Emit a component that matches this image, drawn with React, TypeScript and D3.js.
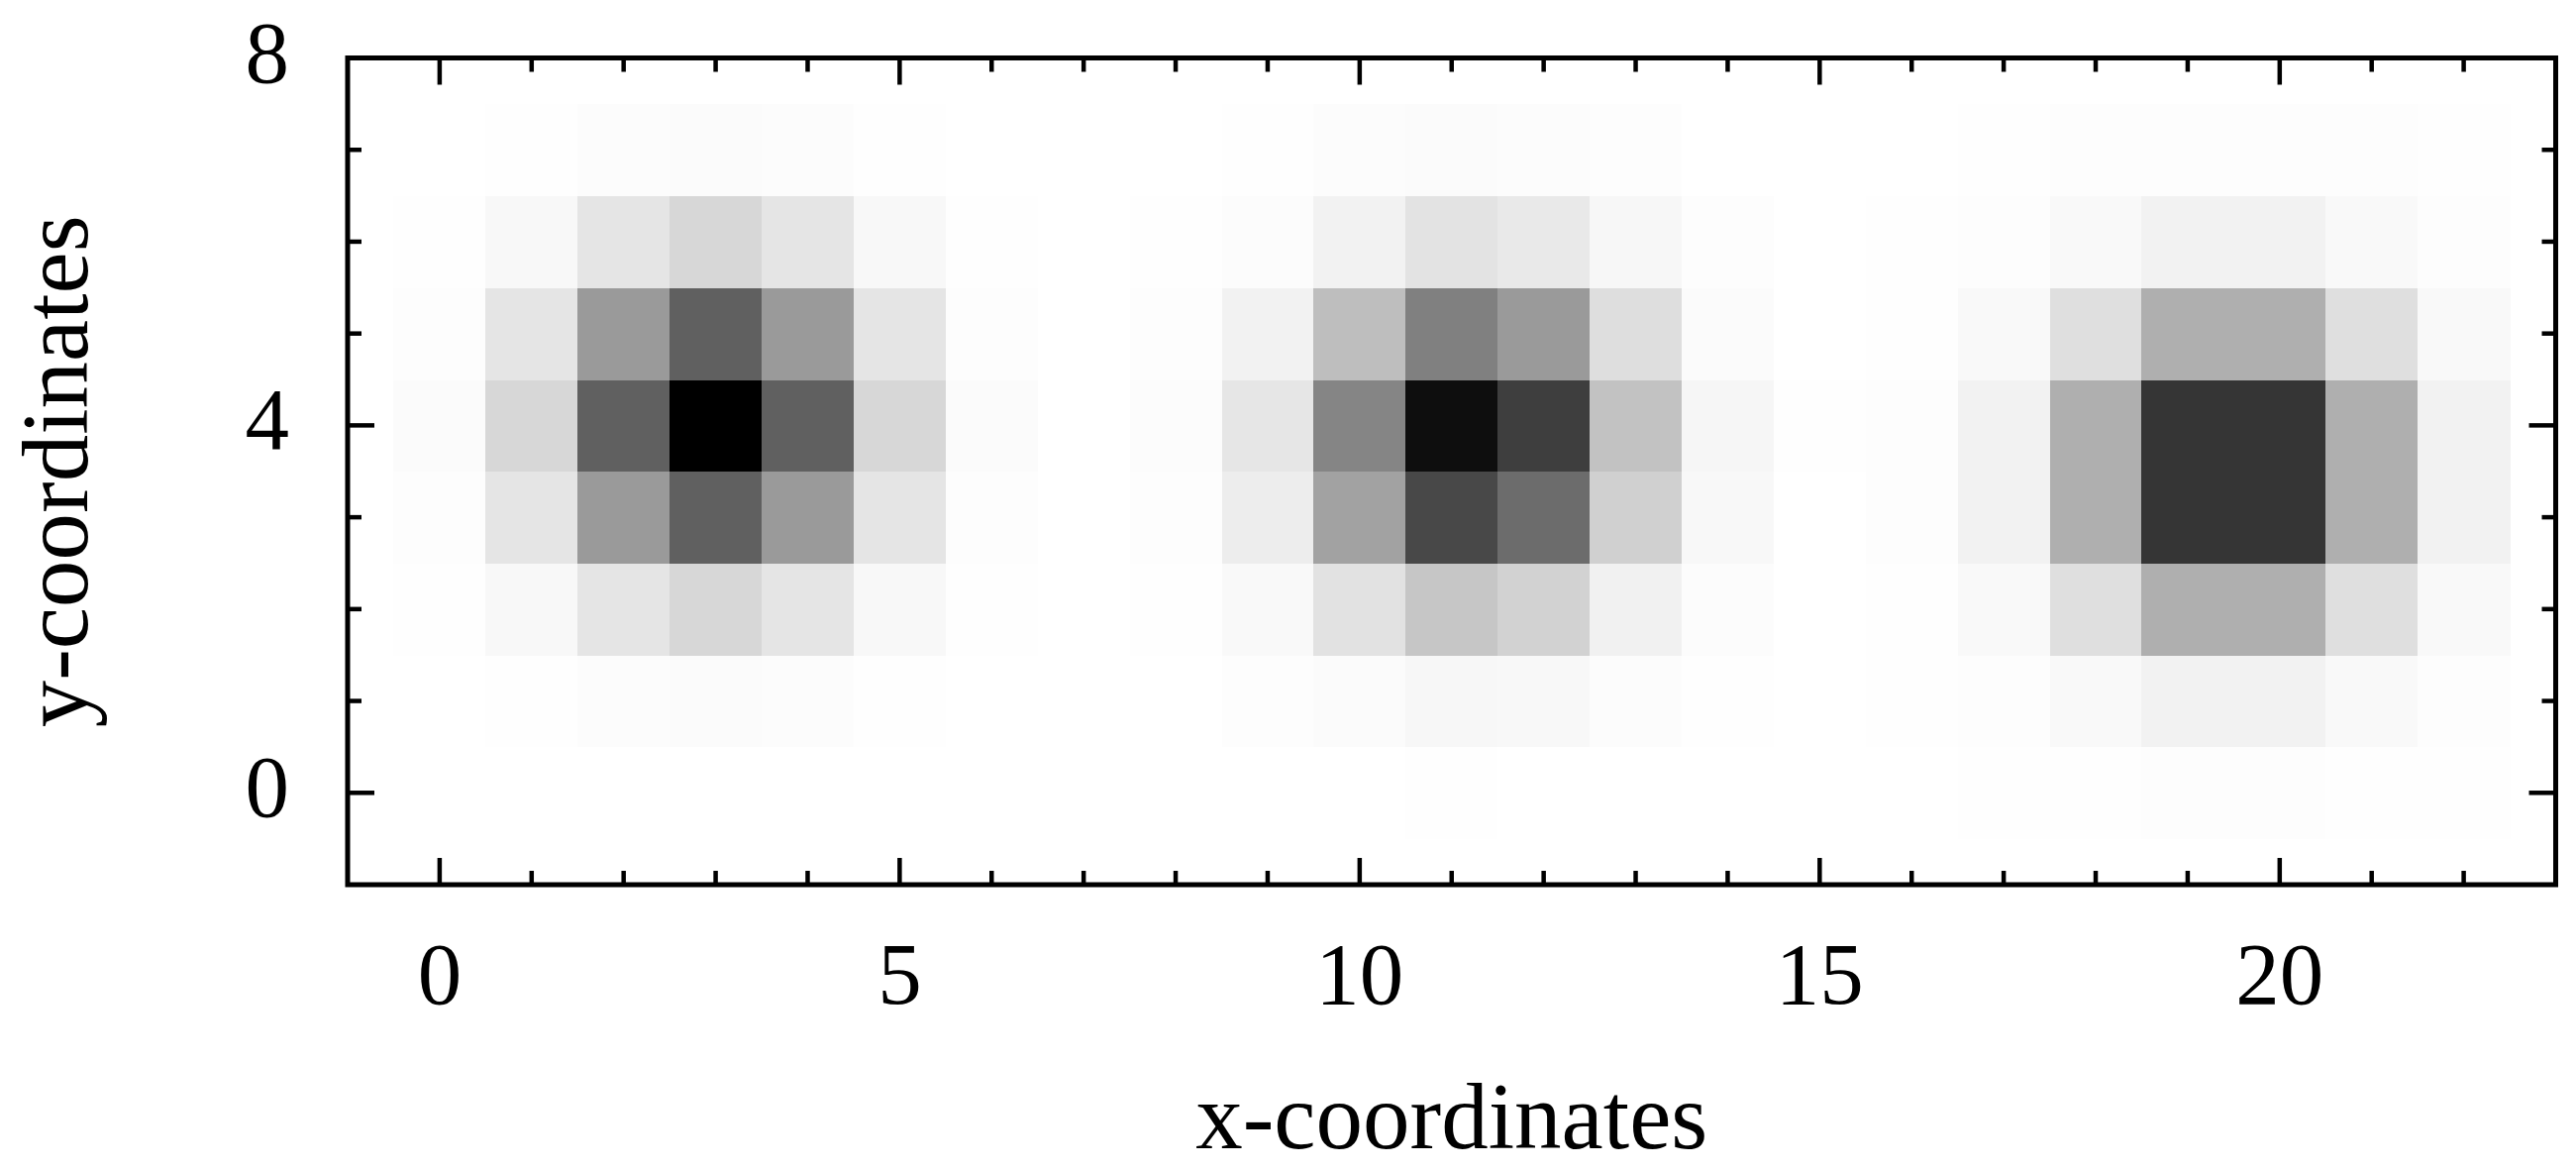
import React from "react";
import * as d3 from "d3";

// grid coordinates
const xCells = [0, 1, 2, 3, 4, 5, 6, 7, 8, 9, 10, 11, 12, 13, 14, 15, 16, 17, 18, 19, 20, 21, 22];
const yCells = [0, 1, 2, 3, 4, 5, 6, 7];

// intensity per row (0 = white, 1 = black)
const rowY0 = [0, 0, 0, 0, 0, 0, 0, 0, 0, 0, 0, 0.002, 0, 0, 0, 0, 0, 0.002, 0.004, 0.006, 0.006, 0.004, 0.002];
const rowY1 = [0, 0.004, 0.01, 0.014, 0.01, 0.004, 0, 0, 0, 0.008, 0.016, 0.031, 0.027, 0.012, 0.002, 0, 0.002, 0.008, 0.024, 0.051, 0.051, 0.024, 0.008];
const rowY2 = [0.002, 0.027, 0.102, 0.157, 0.102, 0.027, 0.002, 0, 0.002, 0.024, 0.114, 0.224, 0.176, 0.055, 0.012, 0, 0.003, 0.024, 0.125, 0.314, 0.314, 0.125, 0.024];
const rowY3 = [0.009, 0.102, 0.396, 0.624, 0.396, 0.102, 0.009, 0, 0.008, 0.071, 0.365, 0.718, 0.576, 0.184, 0.027, 0, 0.006, 0.051, 0.314, 0.792, 0.792, 0.314, 0.051];
const rowY4 = [0.014, 0.157, 0.624, 1.0, 0.624, 0.157, 0.014, 0, 0.012, 0.098, 0.478, 0.945, 0.757, 0.239, 0.035, 0.002, 0.006, 0.051, 0.314, 0.792, 0.792, 0.314, 0.051];
const rowY5 = [0.009, 0.102, 0.396, 0.624, 0.396, 0.102, 0.009, 0, 0.008, 0.051, 0.255, 0.498, 0.396, 0.129, 0.016, 0, 0.003, 0.024, 0.125, 0.314, 0.314, 0.125, 0.024];
const rowY6 = [0.004, 0.027, 0.102, 0.157, 0.102, 0.027, 0.004, 0, 0.002, 0.012, 0.051, 0.11, 0.086, 0.031, 0.006, 0, 0.002, 0.008, 0.024, 0.051, 0.051, 0.024, 0.008];
const rowY7 = [0, 0.004, 0.012, 0.014, 0.012, 0.004, 0, 0, 0, 0.004, 0.01, 0.014, 0.013, 0.006, 0, 0, 0, 0.004, 0.006, 0.008, 0.008, 0.006, 0.004];

const rows = [rowY0, rowY1, rowY2, rowY3, rowY4, rowY5, rowY6, rowY7];

const xMajorTicks = [0, 5, 10, 15, 20];
const xMinorTicks = [0, 1, 2, 3, 4, 5, 6, 7, 8, 9, 10, 11, 12, 13, 14, 15, 16, 17, 18, 19, 20, 21, 22];
const yMajorTicks = [0, 4, 8];
const yMinorTicks = [0, 1, 2, 3, 4, 5, 6, 7];

const xLabel = "x-coordinates";
const yLabel = "y-coordinates";

export default function App() {
  const W = 2601;
  const H = 1181;
  const left = 351;
  const right = 2580.5;
  const top = 58.5;
  const bottom = 893;

  const x = d3.scaleLinear().domain([-1, 23]).range([left, right]);
  const y = d3.scaleLinear().domain([-1, 8]).range([bottom, top]);
  const color = d3.scaleLinear<string>().domain([0, 1]).range(["#ffffff", "#000000"]);

  const font = "'Liberation Serif', 'Times New Roman', serif";
  const majorLen = 27;
  const minorLen = 14;
  const tickW = 4.5;

  const cells: React.ReactNode[] = [];
  yCells.forEach((yv, ri) => {
    xCells.forEach((xv, ci) => {
      const v = rows[ri][ci];
      const x0 = x(xv - 0.5);
      const x1 = x(xv + 0.5);
      const y0 = y(yv + 0.5);
      const y1 = y(yv - 0.5);
      cells.push(
        <rect
          key={`c-${ri}-${ci}`}
          x={x0}
          y={y0}
          width={x1 - x0 + 0.5}
          height={y1 - y0 + 0.5}
          fill={color(v)}
        />
      );
    });
  });

  const ticks: React.ReactNode[] = [];
  xMinorTicks.forEach((t) => {
    const len = xMajorTicks.includes(t) ? majorLen : minorLen;
    const px = x(t);
    ticks.push(<line key={`xb${t}`} x1={px} x2={px} y1={bottom} y2={bottom - len} stroke="#000" strokeWidth={tickW} />);
    ticks.push(<line key={`xt${t}`} x1={px} x2={px} y1={top} y2={top + len} stroke="#000" strokeWidth={tickW} />);
  });
  yMinorTicks.forEach((t) => {
    const len = yMajorTicks.includes(t) ? majorLen : minorLen;
    const py = y(t);
    ticks.push(<line key={`yl${t}`} x1={left} x2={left + len} y1={py} y2={py} stroke="#000" strokeWidth={tickW} />);
    ticks.push(<line key={`yr${t}`} x1={right} x2={right - len} y1={py} y2={py} stroke="#000" strokeWidth={tickW} />);
  });

  return (
    <svg
      width={W}
      height={H}
      style={{ position: "absolute", left: 0, top: 0, background: "#fff" }}
      xmlns="http://www.w3.org/2000/svg"
    >
      <rect x={0} y={0} width={W} height={H} fill="#fff" />
      <g shapeRendering="crispEdges">{cells}</g>
      {ticks}
      <rect x={left} y={top} width={right - left} height={bottom - top} fill="none" stroke="#000" strokeWidth={5} />
      {xMajorTicks.map((t) => (
        <text key={`xl${t}`} x={x(t)} y={1013} textAnchor="middle" fontFamily={font} fontSize={89} fill="#000">
          {t}
        </text>
      ))}
      {yMajorTicks.map((t) => (
        <text key={`yl${t}`} x={292} y={y(t) + 24} textAnchor="end" fontFamily={font} fontSize={89} fill="#000">
          {t}
        </text>
      ))}
      <text x={(left + right) / 2} y={1159} textAnchor="middle" fontFamily={font} fontSize={95} fill="#000">
        {xLabel}
      </text>
      <text
        transform={`translate(88, ${(top + bottom) / 2}) rotate(-90)`}
        textAnchor="middle"
        fontFamily={font}
        fontSize={95}
        fill="#000"
      >
        {yLabel}
      </text>
    </svg>
  );
}
